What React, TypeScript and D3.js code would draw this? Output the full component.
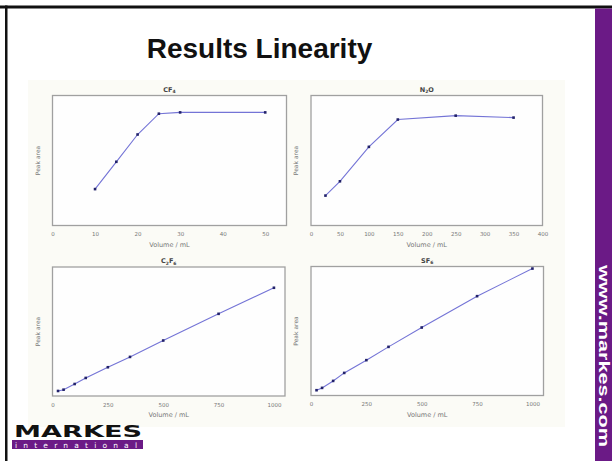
import { useEffect, useRef } from "react";
import * as d3 from "d3";

// peak area values, arbitrary units (0-100 of the plot height)
const cf4Volume = [10, 15, 20, 25, 30, 50];
const cf4Area = [28, 49, 70, 86, 87, 87];

const n2oVolume = [25, 50, 100, 150, 250, 350];
const n2oArea = [23, 34, 60.5, 81.5, 84.5, 83];

const c2f6Volume = [25, 50, 100, 150, 250, 350, 500, 750, 1000];
const c2f6Area = [3.9, 4.9, 9.3, 14, 22.3, 30.3, 43, 63.7, 83.9];

const sf6Volume = [25, 50, 100, 150, 250, 350, 500, 750, 1000];
const sf6Area = [4.1, 5.9, 11.3, 17.5, 27.4, 37.7, 52.7, 77, 98.4];

const cf4Ticks = [0, 10, 20, 30, 40, 50];
const n2oTicks = [0, 50, 100, 150, 200, 250, 300, 350, 400];
const bigTicks = [0, 250, 500, 750, 1000];

const panels = [
  { id: "cf4", name: "CF", sub: "4", xs: cf4Volume, ys: cf4Area, max: 55, ticks: cf4Ticks, box: [52.5, 95.5, 286.5, 225.5] },
  { id: "n2o", name: "N", sub: "2", after: "O", xs: n2oVolume, ys: n2oArea, max: 400, ticks: n2oTicks, box: [311, 95.5, 542.5, 225.5] },
  { id: "c2f6", name: "C", sub: "2", after: "F", sub2: "6", xs: c2f6Volume, ys: c2f6Area, max: 1050, ticks: bigTicks, box: [52.5, 267, 285, 396] },
  { id: "sf6", name: "SF", sub: "6", xs: sf6Volume, ys: sf6Area, max: 1050, ticks: bigTicks, box: [311, 266.5, 543.5, 395.5] },
];

const drawPanel = (svg, p) => {
  const [x0, y0, x1, y1] = p.box;
  const x = d3.scaleLinear().domain([0, p.max]).range([x0, x1]);
  const y = d3.scaleLinear().domain([0, 100]).range([y1, y0]);
  const g = svg.append("g").attr("font-family", "DejaVu Sans, sans-serif");

  g.append("rect")
    .attr("x", x0)
    .attr("y", y0)
    .attr("width", x1 - x0)
    .attr("height", y1 - y0)
    .attr("fill", "#fefefe")
    .attr("stroke", "#a0a0a0")
    .attr("stroke-width", 1.3);

  g.append("g")
    .attr("transform", `translate(0,${y1})`)
    .call(d3.axisBottom(x).tickValues(p.ticks).tickFormat(d3.format("d")).tickSize(0).tickPadding(7))
    .call((a) => a.select(".domain").remove())
    .call((a) =>
      a.selectAll("text").attr("font-size", 5.5).attr("fill", "#777").attr("font-family", "DejaVu Sans, sans-serif")
    );

  g.append("text")
    .attr("x", (x0 + x1) / 2)
    .attr("y", y1 + 21)
    .attr("text-anchor", "middle")
    .attr("font-size", 6.5)
    .attr("fill", "#777")
    .text("Volume / mL");

  g.append("text")
    .attr("transform", `translate(${x0 - 13},${(y0 + y1) / 2}) rotate(-90)`)
    .attr("text-anchor", "middle")
    .attr("font-size", 6)
    .attr("fill", "#777")
    .text("Peak area");

  const t = g
    .append("text")
    .attr("x", (x0 + x1) / 2)
    .attr("y", y0 - 4)
    .attr("text-anchor", "middle")
    .attr("font-size", 6.5)
    .attr("font-weight", "bold")
    .attr("fill", "#444");
  t.append("tspan").text(p.name);
  t.append("tspan").attr("font-size", 4.5).attr("dy", 1.5).text(p.sub);
  if (p.after) t.append("tspan").attr("dy", -1.5).text(p.after);
  if (p.sub2) t.append("tspan").attr("font-size", 4.5).attr("dy", 1.5).text(p.sub2);

  const pts = p.xs.map((v, i) => [v, p.ys[i]]);
  const line = d3.line().x((d) => x(d[0])).y((d) => y(d[1]));
  g.append("path")
    .attr("d", line(pts))
    .attr("fill", "none")
    .attr("stroke", "#7474d6")
    .attr("stroke-width", 1.1);

  g.selectAll("rect.pt")
    .data(pts)
    .join("rect")
    .attr("class", "pt")
    .attr("x", (d) => x(d[0]) - 1.3)
    .attr("y", (d) => y(d[1]) - 1.3)
    .attr("width", 2.6)
    .attr("height", 2.6)
    .attr("fill", "#22226a");
};

const App = () => {
  const ref = useRef(null);

  useEffect(() => {
    const svg = d3.select(ref.current);
    svg.selectAll("*").remove();

    svg.append("rect").attr("width", 612).attr("height", 461).attr("fill", "#fff");
    // cream backdrop of the pasted figure
    svg.append("rect").attr("x", 28).attr("y", 80).attr("width", 537).attr("height", 347).attr("fill", "#fbfbf6");

    // slide border
    svg.append("rect").attr("x", 0).attr("y", 5.5).attr("width", 612).attr("height", 3).attr("fill", "#111");
    svg.append("rect").attr("x", 5).attr("y", 5.5).attr("width", 2.5).attr("height", 456).attr("fill", "#111");

    // purple side strip
    svg.append("rect").attr("x", 595).attr("y", 8.5).attr("width", 17).attr("height", 453).attr("fill", "#6b1a86");
    svg.append("text")
      .attr("transform", "translate(598.5,265) rotate(90)")
      .attr("font-family", "Liberation Sans, Arial, sans-serif")
      .attr("font-weight", "bold")
      .attr("font-size", 14)
      .attr("fill", "#fff")
      .attr("textLength", 182)
      .attr("lengthAdjust", "spacingAndGlyphs")
      .text("www.markes.com");

    svg.append("text")
      .attr("x", 259.5)
      .attr("y", 57.5)
      .attr("text-anchor", "middle")
      .attr("font-family", "Liberation Sans, Arial, sans-serif")
      .attr("font-weight", "bold")
      .attr("font-size", 28)
      .attr("fill", "#111")
      .text("Results Linearity");

    panels.forEach((p) => drawPanel(svg, p));

    // logo
    svg.append("text")
      .attr("x", 14)
      .attr("y", 437)
      .attr("font-family", "DejaVu Sans, sans-serif")
      .attr("font-weight", "bold")
      .attr("font-size", 15)
      .attr("fill", "#111")
      .attr("textLength", 128)
      .attr("lengthAdjust", "spacingAndGlyphs")
      .text("MARKES");
    svg.append("rect").attr("x", 12).attr("y", 440).attr("width", 131).attr("height", 9).attr("fill", "#6b1a86");
    svg.append("text")
      .attr("x", 15)
      .attr("y", 447.5)
      .attr("font-family", "DejaVu Sans, sans-serif")
      .attr("font-size", 7.5)
      .attr("fill", "#fff")
      .attr("textLength", 122)
      .attr("lengthAdjust", "spacing")
      .text("international");
  }, []);

  return <svg ref={ref} width="612" height="461" style={{ position: "absolute", left: 0, top: 0 }} />;
};

export default App;
